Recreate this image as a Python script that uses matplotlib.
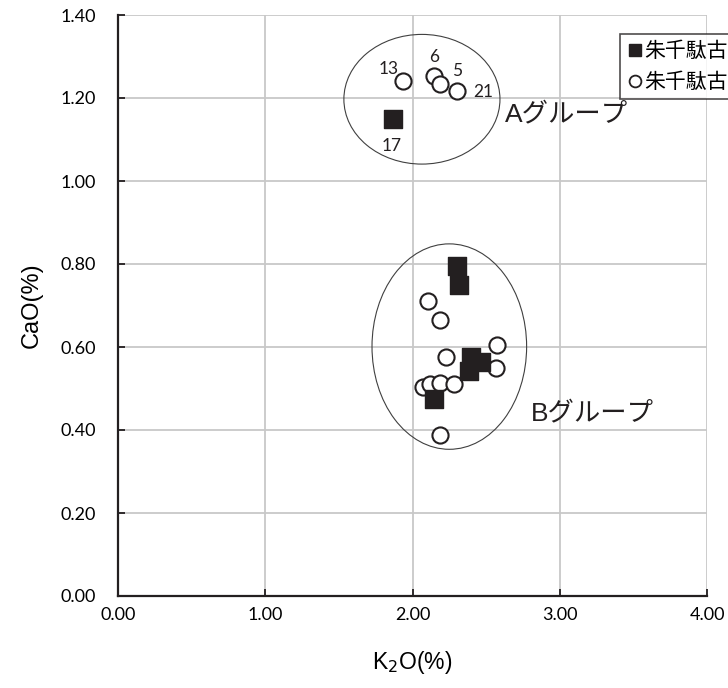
import matplotlib
matplotlib.use("Agg")
import matplotlib.pyplot as plt
from matplotlib.patches import Ellipse
from matplotlib.lines import Line2D

# Data
sq_x = [1.867, 2.30, 2.315, 2.40, 2.466, 2.385, 2.145]
sq_y = [1.149, 0.794, 0.749, 0.577, 0.563, 0.543, 0.474]
ci_x = [1.935, 2.145, 2.19, 2.30, 2.105, 2.186, 2.227, 2.577, 2.568, 2.073, 2.118, 2.186, 2.28, 2.186]
ci_y = [1.240, 1.252, 1.233, 1.216, 0.710, 0.666, 0.575, 0.605, 0.550, 0.503, 0.511, 0.513, 0.510, 0.387]
legend_labels = ["朱千駄古", "朱千駄古"]
point_labels = ["13", "6", "5", "21", "17"]
label_pos = [(1.84, 1.27), (2.145, 1.30), (2.30, 1.265), (2.48, 1.215), (1.86, 1.085)]
group_labels = ["Aグループ", "Bグループ"]
group_pos = [(3.045, 1.158), (3.22, 0.437)]
ellipses = [((2.064, 1.197), 1.06, 0.3125), ((2.25, 0.601), 1.05, 0.495)]
xticks = [0.0, 1.0, 2.0, 3.0, 4.0]
yticks = [0.0, 0.2, 0.4, 0.6, 0.8, 1.0, 1.2, 1.4]

plt.rcParams['font.family'] = ['Liberation Sans', 'Noto Sans CJK JP', 'DejaVu Sans']

fig = plt.figure(figsize=(7.28, 6.88), dpi=100)
ax = fig.add_axes([118/728, 1-596/688, (707-118)/728, (596-15)/688])
ax.set_xlim(0, 4)
ax.set_ylim(0, 1.4)
ax.set_xticks(xticks)
ax.set_yticks(yticks)
ax.set_xticklabels([f"{v:.2f}" for v in xticks], family=['Lato'], fontsize=13)
ax.set_yticklabels([f"{v:.2f}" for v in yticks], family=['Lato'], fontsize=13)
ax.grid(True, color='#c8c8c8', linewidth=1.3, zorder=0)
ax.set_axisbelow(True)
for s in ['top', 'right']:
    ax.spines[s].set_visible(False)
for s in ['left', 'bottom']:
    ax.spines[s].set_linewidth(1.6)
    ax.spines[s].set_color('#231f20')
ax.tick_params(direction='in', length=5, width=1.3, color='#231f20')
ax.tick_params(axis='y', pad=16)
ax.tick_params(axis='x', pad=8)

for (c, w, h) in ellipses:
    ax.add_patch(Ellipse(c, w, h, fill=False, edgecolor='#404040', linewidth=0.8, zorder=2))

ax.scatter(sq_x, sq_y, marker='s', s=150, color='#231f20', zorder=4)
ax.scatter(ci_x, ci_y, marker='o', s=135, facecolor='white', edgecolor='#231f20', linewidth=1.5, zorder=3)

for t, (x, y) in zip(point_labels, label_pos):
    ax.text(x, y, t, fontsize=12.5, family=['Lato'], ha='center', va='center', color='#231f20')
for t, (x, y) in zip(group_labels, group_pos):
    ax.text(x, y, t, fontsize=19, ha='center', va='center', color='#231f20')

ax.set_xlabel("K$_2$O(%)", fontsize=16.5)
ax.set_ylabel("CaO(%)", fontsize=17)
ax.xaxis.set_label_coords((412-118)/589, -(662-596)/581)
ax.xaxis.label.set_va('center')
ax.yaxis.set_label_coords(-(118-32)/589, (596-305)/581)
ax.yaxis.label.set_va('center')

handles = [Line2D([], [], marker='s', linestyle='none', markersize=9, color='#231f20'),
           Line2D([], [], marker='o', linestyle='none', markersize=8.5, markerfacecolor='white',
                  markeredgecolor='#231f20', markeredgewidth=1.3)]
leg = fig.legend(handles, legend_labels, loc='upper left', bbox_to_anchor=(620/728, 1-34/688),
                 frameon=True, fancybox=False, edgecolor='#231f20', fontsize=15,
                 handlelength=0.7, handletextpad=0.1, borderpad=0.35, labelspacing=0.55,
                 borderaxespad=0)
leg.get_frame().set_linewidth(1.2)

fig.savefig("out.png", dpi=100)
